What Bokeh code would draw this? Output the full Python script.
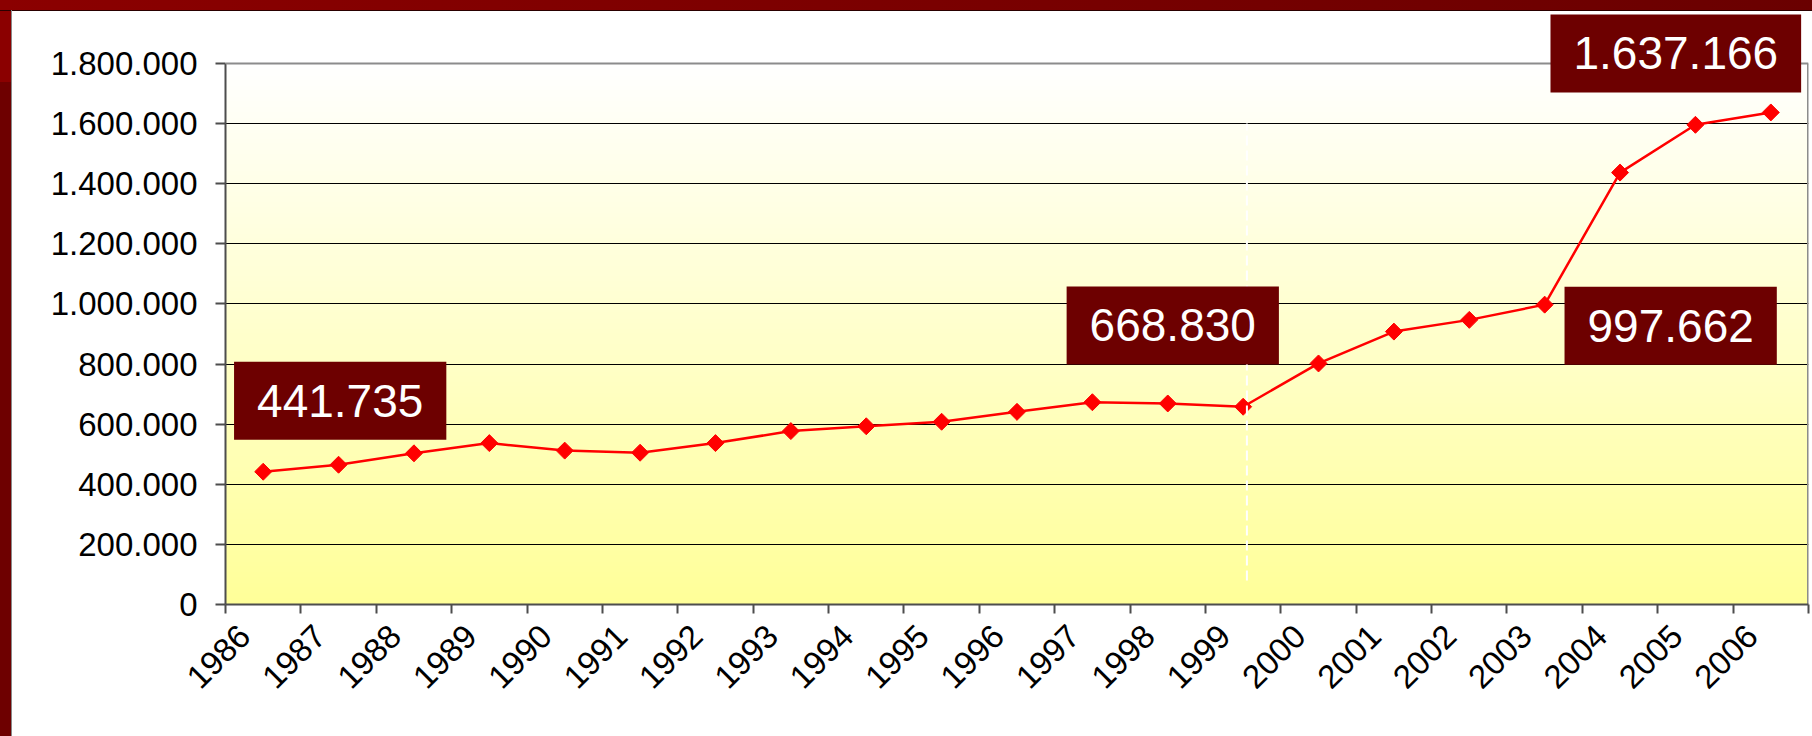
import math
import numpy as np
from bokeh.plotting import figure
from bokeh.models import Range1d, FixedTicker, Label, Span, GlobalInlineStyleSheet
from bokeh.embed import file_html
from bokeh.resources import INLINE

# ---------------- data ----------------
years = ["1986", "1987", "1988", "1989", "1990", "1991", "1992", "1993", "1994",
         "1995", "1996", "1997", "1998", "1999", "2000", "2001", "2002", "2003",
         "2004", "2005", "2006"]
values = [441735, 465000, 503000, 537000, 512000, 505000, 537000, 577000, 593000,
          608000, 641000, 673000, 668830, 658000, 802000, 908000, 947000, 997662,
          1437000, 1596000, 1637166]
y_ticks = [0, 200000, 400000, 600000, 800000, 1000000, 1200000, 1400000, 1600000, 1800000]
y_tick_labels = ["0", "200.000", "400.000", "600.000", "800.000", "1.000.000",
                 "1.200.000", "1.400.000", "1.600.000", "1.800.000"]
callout_years = ["1986", "1998", "2003", "2006"]

# ---------------- layout / style constants ----------------
callout_offsets = [(77, 71), (5, 78), (126, -21), (-95, 59)]
FONT = "Liberation Sans"
MAROON = "#6D0000"
W, H = 1810, 734
BORDER_L, BORDER_R, BORDER_T, BORDER_B = 225, 2, 5, 130
PLOT_AREA_PX = 541          # pixel height of the 0 .. 1.800.000 area
frame_h = H - BORDER_T - BORDER_B
y_top = y_ticks[-1] * frame_h / PLOT_AREA_PX   # extra white room above the plot area
LABEL_SHIFT = 0.25          # where, inside each category, the rotated year label ends

n_cat = len(years)
xs = [i + 0.5 for i in range(n_cat)]
label_pos = [i + LABEL_SHIFT for i in range(n_cat)]


def fmt(v):
    return f"{v:,}".replace(",", ".")


css = """
body {
  background:
    linear-gradient(#8a8a8a, #8a8a8a) 11px 10px / 1px 100% no-repeat,
    linear-gradient(#2a0000, #2a0000) 0 10px / 100% 1px no-repeat,
    linear-gradient(to bottom, #8B0000 0px, #8B0000 82px, #6E0000 82px, #6E0000 100%) 0 0 / 11px 100% no-repeat,
    linear-gradient(to right, #8B0000, #6A0000) 0 0 / 100% 10px no-repeat,
    #ffffff;
}
"""

p = figure(width=W, height=H,
           x_range=Range1d(0, n_cat), y_range=Range1d(0, y_top),
           output_backend="svg", toolbar_location=None,
           min_border_left=BORDER_L, min_border_right=BORDER_R,
           min_border_top=BORDER_T, min_border_bottom=BORDER_B,
           border_fill_color=None, background_fill_color=None,
           outline_line_color=None)
p.stylesheets = [GlobalInlineStyleSheet(css=css)]

# vertical white -> yellow gradient background of the plot area
n = 256
t = np.linspace(0.0, 1.0, n)
img = np.empty((n, 1), dtype=np.uint32)
view = img.view(dtype=np.uint8).reshape((n, 1, 4))
view[:, 0, 0] = 255
view[:, 0, 1] = 255
view[:, 0, 2] = (153 + (255 - 153) * t).astype(np.uint8)
view[:, 0, 3] = 255
p.image_rgba(image=[img], x=0, y=0, dw=n_cat, dh=y_ticks[-1], level="image")

# grid
p.xgrid.grid_line_color = None
p.ygrid.ticker = FixedTicker(ticks=y_ticks[1:-1])
p.ygrid.grid_line_color = "#000000"
p.ygrid.grid_line_width = 1.2

# plot-area border (top and right)
p.add_layout(Span(location=y_ticks[-1], dimension="width",
                  line_color="#8c8c8c", line_width=2))
p.segment(x0=[n_cat], y0=[0], x1=[n_cat], y1=[y_ticks[-1]],
          line_color="#8c8c8c", line_width=3)

# y axis
p.yaxis.bounds = (0, y_ticks[-1])
p.yaxis.ticker = FixedTicker(ticks=y_ticks)
p.yaxis.major_label_overrides = dict(zip(y_ticks, y_tick_labels))
p.yaxis.major_label_text_font = FONT
p.yaxis.major_label_text_font_size = "33px"
p.yaxis.major_label_text_color = "#000000"
p.yaxis.major_tick_in = 0
p.yaxis.major_tick_out = 10
p.yaxis.major_tick_line_color = "#4d4d4d"
p.yaxis.major_tick_line_width = 2
p.yaxis.major_label_standoff = 18
p.yaxis.axis_line_color = "#4d4d4d"
p.yaxis.axis_line_width = 2
p.yaxis.minor_tick_line_color = None

# x axis: rotated labels, tick marks at category boundaries
p.xaxis.ticker = FixedTicker(ticks=label_pos, minor_ticks=list(range(n_cat + 1)))
p.xaxis.major_label_overrides = dict(zip(label_pos, years))
p.xaxis.major_label_orientation = math.pi / 4
p.xaxis.major_label_text_font = FONT
p.xaxis.major_label_text_font_size = "33px"
p.xaxis.major_label_text_color = "#000000"
p.xaxis.major_tick_line_color = None
p.xaxis.major_tick_in = 0
p.xaxis.major_tick_out = 9
p.xaxis.minor_tick_in = 0
p.xaxis.minor_tick_out = 9
p.xaxis.minor_tick_line_color = "#4d4d4d"
p.xaxis.minor_tick_line_width = 2
p.xaxis.major_label_standoff = 17
p.xaxis.axis_line_color = "#4d4d4d"
p.xaxis.axis_line_width = 2

# series
p.line(xs, values, line_color="#FF0000", line_width=2.5)
p.scatter(xs, values, marker="square", size=12, angle=math.pi / 4,
          fill_color="#FF0000", line_color="#FF0000")

# dashed white separator at 1999
xsep = years.index("1999") + 0.55
p.segment(x0=[xsep], y0=[80000], x1=[xsep], y1=[1600000],
          line_color="white", line_width=2, line_dash="10 5")

# callout boxes
for yr, (dx, dy) in zip(callout_years, callout_offsets):
    i = years.index(yr)
    p.add_layout(Label(x=xs[i], y=values[i], x_offset=dx, y_offset=dy,
                       text=fmt(values[i]), text_align="center", text_baseline="middle",
                       text_color="white", text_font=FONT, text_font_size="46px",
                       background_fill_color=MAROON, padding=(23, 23)))

open("out.html", "w").write(file_html(p, INLINE))
